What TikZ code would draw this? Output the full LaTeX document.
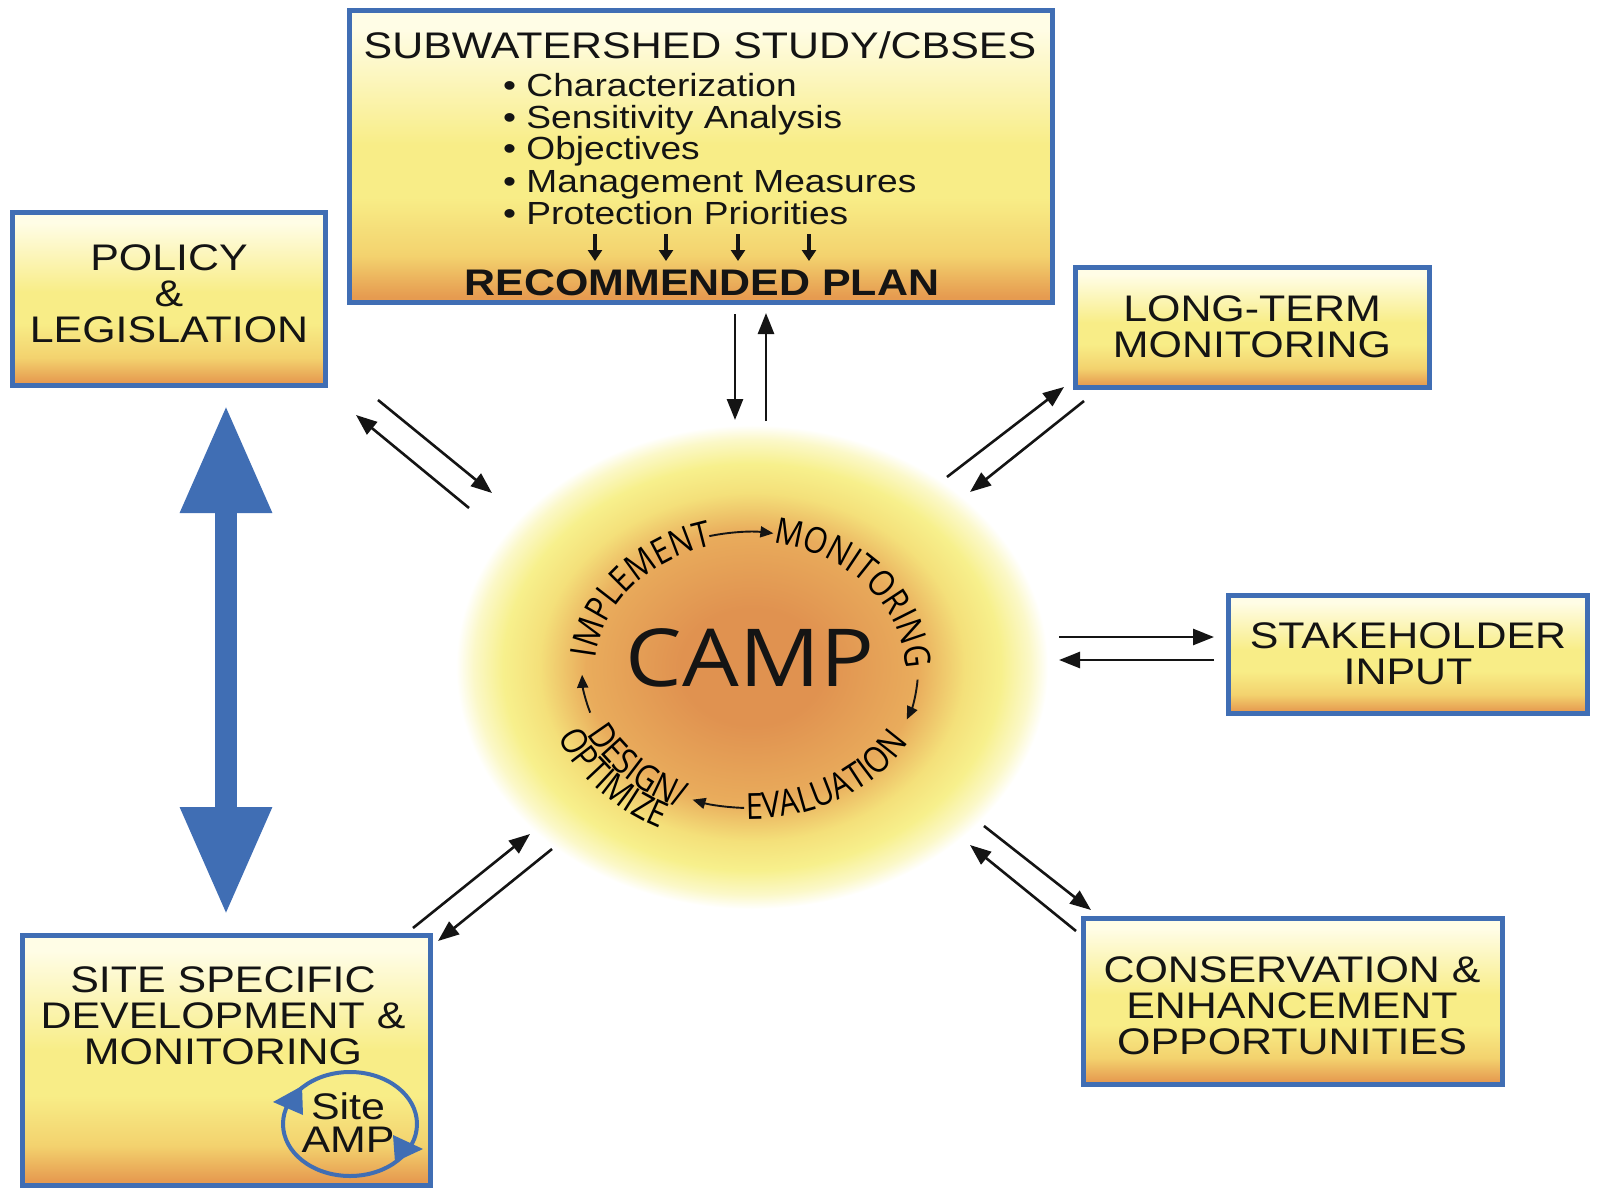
\documentclass[tikz,border=0pt]{standalone}
\usepackage{fontspec}
\setmainfont[FakeStretch=1.16]{Liberation Sans}
\newfontfamily\campfont[FakeStretch=1.12]{Open Sans}
\newfontfamily\ringfont[FakeStretch=0.86]{Open Sans}
\usetikzlibrary{arrows.meta,decorations.text,shapes.geometric}
\definecolor{bblue}{RGB}{64,110,180}
\definecolor{txt}{RGB}{20,20,20}
\definecolor{ytop}{RGB}{255,253,230}
\definecolor{ymid}{RGB}{248,237,135}
\definecolor{ylow}{RGB}{243,210,110}
\definecolor{yorg}{RGB}{230,155,80}
\definecolor{gA}{RGB}{224,146,80}
\definecolor{gB}{RGB}{233,172,92}
\definecolor{gC}{RGB}{244,224,122}
\definecolor{gD}{RGB}{247,240,140}
\definecolor{gE}{RGB}{251,248,200}
\pgfdeclareverticalshading{boxshade}{100bp}{color(0bp)=(yorg); color(26bp)=(yorg); color(33bp)=(ylow); color(43bp)=(ymid); color(52bp)=(ymid); color(72bp)=(ytop); color(100bp)=(ytop)}
\pgfdeclareradialshading{glow}{\pgfpoint{0bp}{0bp}}{color(0bp)=(gA); color(6bp)=(gA); color(14bp)=(gB); color(18bp)=(gC); color(21bp)=(gD); color(23.5bp)=(gE); color(25bp)=(white); color(50bp)=(white)}
\newcommand\boxfont{\fontsize{37}{36}\selectfont}
\newcommand\bulfont{\fontsize{32}{32}\selectfont}
\newcommand\ringfnt{\ringfont\fontsize{36}{36}\selectfont}
\begin{document}
\begin{tikzpicture}[x=1pt,y=1pt,
  box/.style={draw=bblue, line width=5pt, shade, shading=boxshade, inner sep=0pt},
  lbl/.style={align=center, font=\boxfont, text=txt, inner sep=0pt},
  conn/.style={line width=2.6pt, draw=txt, -{Triangle[length=21pt,width=16pt]}},
  ringarr/.style={line width=1.9pt, draw=txt, -{Triangle[length=13pt,width=11pt]}},
  smallarr/.style={line width=3.5pt, draw=txt, -{Triangle[length=11pt,width=14pt]}},
  ringtxt/.style={decorate, decoration={text along path, text align=center, text={|\ringfnt|#1}}}
]
\useasboundingbox (0,0) rectangle (1604,-1191);
\fill[white] (0,0) rectangle (1604,-1191);

% glow
\node[ellipse, minimum width=592pt, minimum height=484pt, shade, shading=glow, inner sep=0pt] (camp) at (752,-667) {};

% boxes
\node[box, minimum width=703pt, minimum height=292pt] (sub) at (701,-156.5) {};
\node[box, minimum width=313pt, minimum height=173pt] (policy) at (169,-299) {};
\node[box, minimum width=354pt, minimum height=120pt] (longterm) at (1252.5,-327.5) {};
\node[box, minimum width=359pt, minimum height=118pt] (stake) at (1408,-654.5) {};
\node[box, minimum width=419pt, minimum height=166pt] (cons) at (1293,-1001.5) {};
\node[box, minimum width=408pt, minimum height=250pt] (site) at (226.5,-1060.5) {};

% box texts
\node[lbl] (policytxt) at (169,-294) {POLICY\\\&\\LEGISLATION};
\node[lbl] (longtxt) at (1252,-326.5) {LONG-TERM\\MONITORING};
\node[lbl] (staketxt) at (1408,-654) {STAKEHOLDER\\INPUT};
\node[lbl] (constxt) at (1292,-1006) {CONSERVATION \&\\ENHANCEMENT\\OPPORTUNITIES};
\node[lbl] (sitetxt) at (223,-1016) {SITE SPECIFIC\\DEVELOPMENT \&\\MONITORING};

% sub box content
\node[lbl, anchor=base] (subtitle) at (700,-58) {SUBWATERSHED STUDY/CBSES};
\node[anchor=base west, font=\bulfont, text=txt, inner sep=0pt] (b1) at (503,-96.5) {\textbullet\ Characterization};
\node[anchor=base west, font=\bulfont, text=txt, inner sep=0pt] (b2) at (503,-128.5) {\textbullet\ Sensitivity Analysis};
\node[anchor=base west, font=\bulfont, text=txt, inner sep=0pt] (b3) at (503,-159.5) {\textbullet\ Objectives};
\node[anchor=base west, font=\bulfont, text=txt, inner sep=0pt] (b4) at (503,-192.5) {\textbullet\ Management Measures};
\node[anchor=base west, font=\bulfont, text=txt, inner sep=0pt] (b5) at (503,-224.5) {\textbullet\ Protection Priorities};
\node[lbl, anchor=base, font=\boxfont\bfseries] (rec) at (702,-295) {RECOMMENDED PLAN};
\foreach \xx in {595,666,738,809}{
  \draw[smallarr] (\xx,-234) -- (\xx,-261);
}

% big blue double arrow
\coordinate (bigtop) at (226,-405);
\coordinate (bigbot) at (226,-915);
\draw[bblue, line width=22pt, {Triangle[length=108pt,width=86pt]}-{Triangle[length=108pt,width=86pt]}] (bigtop) -- (bigbot);

% connectors
\coordinate (a1s) at (735,-314); \coordinate (a1e) at (735,-420);
\coordinate (a2s) at (766,-421); \coordinate (a2e) at (766,-313);
\coordinate (b1s) at (378,-400); \coordinate (b1e) at (492,-493);
\coordinate (b2s) at (469,-508); \coordinate (b2e) at (356,-415);
\coordinate (c1s) at (947,-477); \coordinate (c1e) at (1064,-387);
\coordinate (c2s) at (1084,-401); \coordinate (c2e) at (970,-492);
\coordinate (d1s) at (1059,-637); \coordinate (d1e) at (1214,-637);
\coordinate (d2s) at (1214,-660); \coordinate (d2e) at (1059,-660);
\coordinate (e1s) at (984,-826); \coordinate (e1e) at (1091,-910);
\coordinate (e2s) at (1076,-931); \coordinate (e2e) at (970,-845);
\coordinate (f1s) at (413,-928); \coordinate (f1e) at (530,-834);
\coordinate (f2s) at (552,-849); \coordinate (f2e) at (438,-941);
\foreach \p in {a1,a2,b1,b2,c1,c2,d1,d2,e1,e2,f1,f2}{
  \draw[conn] (\p s) -- (\p e);
}

% CAMP centre
\node[anchor=base, font=\campfont\fontsize{80}{80}\selectfont, text=txt, inner sep=0pt] (camptxt) at (750,-686.5) {CAMP};
\coordinate (rc) at (750,-670);
\path[ringtxt={IMPLEMENT}] ([shift={(194:155pt and 128pt)}]rc) arc[start angle=194, end angle=88, x radius=155pt, y radius=128pt];
\path[ringtxt={MONITORING}] ([shift={(90:155pt and 128pt)}]rc) arc[start angle=90, end angle=-10, x radius=155pt, y radius=128pt];
\path[ringtxt={EVALUATION}] ([shift={(-104:181pt and 149pt)}]rc) arc[start angle=-104, end angle=-14, x radius=181pt, y radius=149pt];
\path[ringtxt={DESIGN/}] ([shift={(184:181pt and 149pt)}]rc) arc[start angle=184, end angle=266, x radius=181pt, y radius=149pt];
\path[ringtxt={OPTIMIZE}] ([shift={(180:208pt and 176pt)}]rc) arc[start angle=180, end angle=264, x radius=208pt, y radius=176pt];
% ring arrows
\draw[ringarr] ([shift={(104:168pt and 138pt)}]rc) arc[start angle=104, end angle=82, x radius=168pt, y radius=138pt];
\draw[ringarr] ([shift={(-4:168pt and 138pt)}]rc) arc[start angle=-4, end angle=-21, x radius=168pt, y radius=138pt];
\draw[ringarr] ([shift={(-92:168pt and 138pt)}]rc) arc[start angle=-92, end angle=-110, x radius=168pt, y radius=138pt];
\draw[ringarr] ([shift={(198:168pt and 138pt)}]rc) arc[start angle=198, end angle=182, x radius=168pt, y radius=138pt];

% Site AMP
\draw[bblue, line width=4pt] (350,-1124) ellipse[x radius=67pt, y radius=52pt];
\fill[bblue] (273,-1102) -- (302,-1086) -- (303,-1115) -- cycle;
\fill[bblue] (423,-1149) -- (393,-1135) -- (395,-1162) -- cycle;
\node[lbl, font=\fontsize{37}{33}\selectfont] (amp) at (348,-1123) {Site\\AMP};
\end{tikzpicture}
\end{document}
